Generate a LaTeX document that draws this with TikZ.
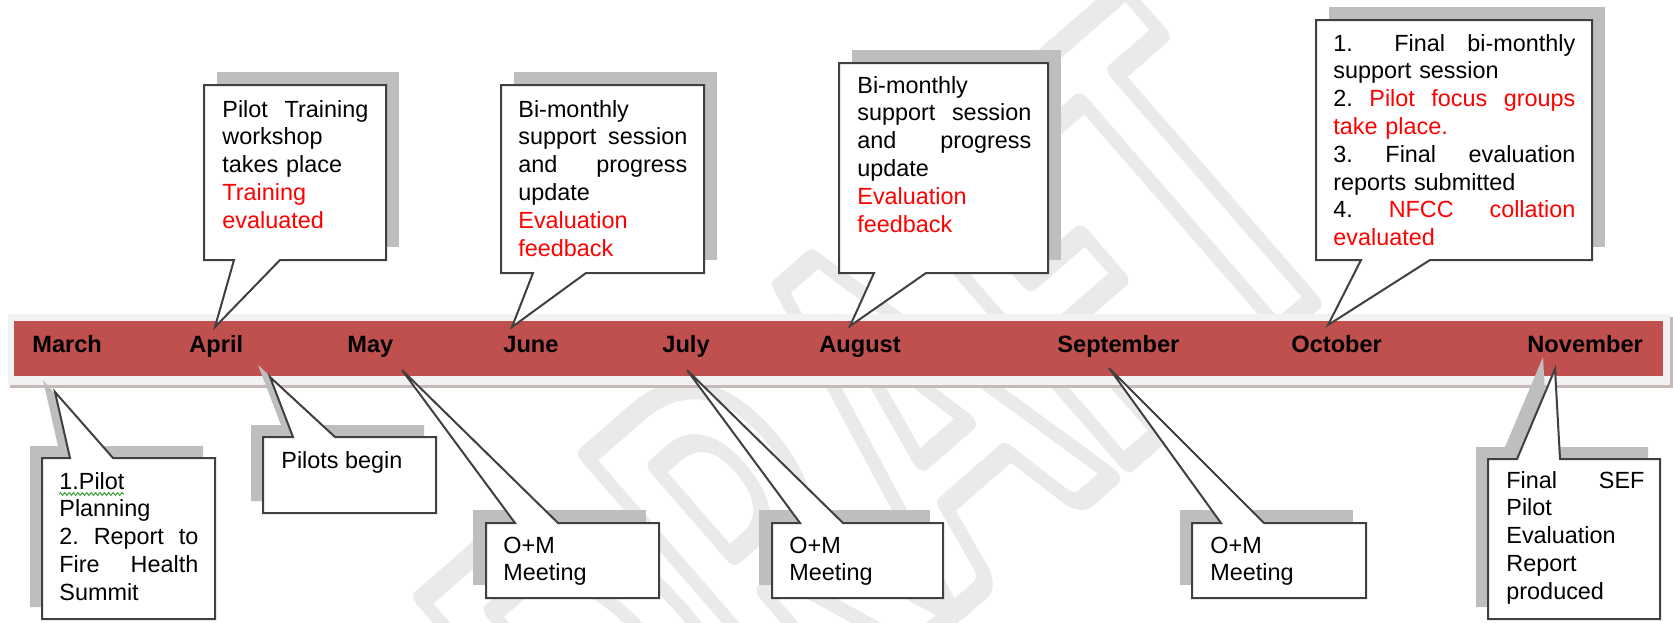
\documentclass[tikz,border=0pt]{standalone}
\usepackage{graphicx}
\usepackage{fontspec}
\setmainfont{Liberation Sans}
\newfontfamily\wmfont{Carlito}
\usetikzlibrary{decorations.pathmorphing}
\definecolor{bandred}{RGB}{192,80,77}
\definecolor{rimgray}{RGB}{242,242,242}
\definecolor{rimshadow}{RGB}{200,184,184}
\definecolor{shadowgray}{RGB}{190,190,190}
\definecolor{edgegray}{RGB}{64,64,64}
\definecolor{wmgray}{RGB}{234,234,234}
\definecolor{txtred}{RGB}{255,0,0}
\definecolor{squiggle}{RGB}{60,160,60}
\newcommand{\outlinetext}[1]{\special{pdf:literal direct 1 Tr 6.5 w 1 j}#1\special{pdf:literal direct 0 Tr}}
\begin{document}
\begin{tikzpicture}[x=0.5pt,y=-0.5pt,
  callout/.style={fill=white,draw=edgegray,line width=1pt,line join=miter},
  shade/.style={fill=shadowgray},
  body/.style={inner sep=0pt,anchor=base west,align=left,font=\fontsize{11.7pt}{13.9pt}\selectfont},
  month/.style={inner sep=0pt,anchor=base west,font=\fontsize{11.8pt}{14pt}\selectfont\bfseries},
  wm/.style={inner sep=0pt,text=wmgray,font=\wmfont\bfseries\fontsize{173pt}{173pt}\selectfont}]
\useasboundingbox (0,0) rectangle (1673,622);
\fill[white] (0,0) rectangle (1673,622);
% watermark
\begin{scope}
\clip (0,0) rectangle (1673,622);
\node[wm,anchor=base west,rotate=41] (watermark) at (642,884) {\scalebox{1}[1.6]{\outlinetext{DRAFT}}};
\end{scope}
% timeline band
\fill[rimshadow] (10,317) rectangle (1673,388);
\fill[rimgray] (8,314) rectangle (1670,385);
\fill[bandred] (14,321) rectangle (1663,376);
% month labels
\node[month] (mMar) at (32,352) {March};
\node[month] (mApr) at (189,352) {April};
\node[month] (mMay) at (347,352) {May};
\node[month] (mJun) at (503,352) {June};
\node[month] (mJul) at (662,352) {July};
\node[month] (mAug) at (819,352) {August};
\node[month] (mSep) at (1057,352) {September};
\node[month] (mOct) at (1291,352) {October};
\node[month] (mNov) at (1527,352) {November};
% upper callouts
\fill[shade] (217,72) rectangle (399,247);
\draw[callout] (204,85) -- (386,85) -- (386,260) -- (280,260) -- (215,327) -- (234,260) -- (204,260) -- cycle;
\fill[shade] (514,72) rectangle (717,260);
\draw[callout] (501,85) -- (704,85) -- (704,273) -- (586,273) -- (512,327) -- (533,273) -- (501,273) -- cycle;
\fill[shade] (852,50) rectangle (1061,260);
\draw[callout] (839,63) -- (1048,63) -- (1048,273) -- (926,273) -- (850,326) -- (874,273) -- (839,273) -- cycle;
\fill[shade] (1329,7) rectangle (1605,247);
\draw[callout] (1316,20) -- (1592,20) -- (1592,260) -- (1430,260) -- (1328,325) -- (1361,260) -- (1316,260) -- cycle;
% lower callouts
\fill[shade,shift={(-12,-12)}] (42,458) -- (70,458) -- (55,392) -- (113,458) -- (215,458) -- (215,619) -- (42,619) -- cycle;
\draw[callout] (42,458) -- (70,458) -- (55,392) -- (113,458) -- (215,458) -- (215,619) -- (42,619) -- cycle;
\fill[shade,shift={(-12,-12)}] (263,437) -- (293,437) -- (270,377) -- (335,437) -- (436,437) -- (436,513) -- (263,513) -- cycle;
\draw[callout] (263,437) -- (293,437) -- (270,377) -- (335,437) -- (436,437) -- (436,513) -- (263,513) -- cycle;
\fill[shade] (473,510) rectangle (646,585);
\draw[callout] (486,523) -- (515,523) -- (402,370) -- (558,523) -- (659,523) -- (659,598) -- (486,598) -- cycle;
\fill[shade] (759,510) rectangle (930,585);
\draw[callout] (772,523) -- (800,523) -- (687,370) -- (843,523) -- (943,523) -- (943,598) -- (772,598) -- cycle;
\fill[shade] (1180,510) rectangle (1353,585);
\draw[callout] (1192,523) -- (1221,523) -- (1109,368) -- (1264,523) -- (1366,523) -- (1366,598) -- (1192,598) -- cycle;
\fill[shade,shift={(-12,-12)}] (1488,459) -- (1517,459) -- (1555,369) -- (1560,459) -- (1660,459) -- (1660,619) -- (1488,619) -- cycle;
\draw[callout] (1488,459) -- (1517,459) -- (1555,369) -- (1560,459) -- (1660,459) -- (1660,619) -- (1488,619) -- cycle;
% texts
\node[body,text width=73pt] (tApr) at (222,117) {Pilot\hfill Training\\workshop\\takes place\\\textcolor{txtred}{Training}\\\textcolor{txtred}{evaluated}};
\node[body,text width=84.5pt] (tJun) at (518,117) {Bi-monthly\\support\hfill session\\and\hfill progress\\update\\\textcolor{txtred}{Evaluation}\\\textcolor{txtred}{feedback}};
\node[body,text width=87pt] (tAug) at (857,93) {Bi-monthly\\support\hfill session\\and\hfill progress\\update\\\textcolor{txtred}{Evaluation}\\\textcolor{txtred}{feedback}};
\node[body,text width=121pt] (tOct) at (1333,51) {\makebox[30.5pt][l]{1.}Final\hfill bi-monthly\\support session\\2.\hfill\textcolor{txtred}{Pilot\hfill focus\hfill groups}\\\textcolor{txtred}{take place.}\\3.\hfill Final\hfill evaluation\\reports submitted\\4.\hfill\textcolor{txtred}{NFCC}\hfill\textcolor{txtred}{collation}\\\textcolor{txtred}{evaluated}};
\node[body,text width=69.5pt] (tMar) at (59,489) {1.Pilot\\Planning\\2.\hfill Report\hfill to\\Fire\hfill Health\\Summit};
\draw[squiggle,line width=0.5pt,decorate,decoration={snake,amplitude=0.7pt,segment length=2.2pt}] (tMar.base west) ++(0,5) -- ++(65,0);
\node[body] (tPil) at (281,468) {Pilots begin};
\node[body,text width=70pt] (tMay) at (503,553) {O+M\\Meeting};
\node[body,text width=70pt] (tJul) at (789,553) {O+M\\Meeting};
\node[body,text width=70pt] (tSep) at (1210,553) {O+M\\Meeting};
\node[body,text width=69pt] (tNov) at (1506,488) {Final\hfill SEF\\Pilot\\Evaluation\\Report\\produced};
\end{tikzpicture}
\end{document}
